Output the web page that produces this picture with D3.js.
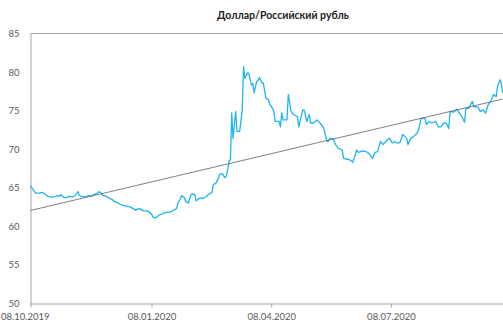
<!DOCTYPE html>
<html>
<head>
<meta charset="utf-8">
<script src="https://cdn.jsdelivr.net/npm/d3@7"></script>
<style>
  html, body { margin: 0; padding: 0; background: #fff; }
  svg { display: block; }
</style>
</head>
<body>
<svg id="chart" width="503" height="323"></svg>
<script>
const title = "Доллар/Российский рубль";

const dates = [
"2019-10-08","2019-10-09","2019-10-11","2019-10-12","2019-10-15","2019-10-17","2019-10-19","2019-10-21","2019-10-24","2019-10-26",
"2019-10-28","2019-10-30","2019-10-31","2019-11-02","2019-11-04","2019-11-06","2019-11-09","2019-11-11","2019-11-13","2019-11-14",
"2019-11-16","2019-11-19","2019-11-21","2019-11-23","2019-11-25","2019-11-28","2019-11-29","2019-12-01","2019-12-02","2019-12-05",
"2019-12-07","2019-12-09","2019-12-11","2019-12-14","2019-12-16","2019-12-18","2019-12-21","2019-12-23","2019-12-25","2019-12-27",
"2019-12-28","2019-12-30","2020-01-02","2020-01-04","2020-01-06","2020-01-08","2020-01-09","2020-01-11","2020-01-12","2020-01-14",
"2020-01-16","2020-01-19","2020-01-21","2020-01-23","2020-01-25","2020-01-27","2020-01-28","2020-01-30","2020-01-31","2020-02-02",
"2020-02-03","2020-02-05","2020-02-07","2020-02-08","2020-02-10","2020-02-11","2020-02-13","2020-02-14","2020-02-16","2020-02-17",
"2020-02-19","2020-02-20","2020-02-22","2020-02-23","2020-02-24","2020-02-26","2020-02-28","2020-02-29","2020-03-02","2020-03-03",
"2020-03-04","2020-03-05","2020-03-06","2020-03-07","2020-03-08","2020-03-09","2020-03-10","2020-03-12","2020-03-13","2020-03-15",
"2020-03-17","2020-03-18","2020-03-19","2020-03-21","2020-03-22","2020-03-24","2020-03-25","2020-03-26","2020-03-28","2020-03-29",
"2020-03-30","2020-04-01","2020-04-02","2020-04-04","2020-04-06","2020-04-07","2020-04-09","2020-04-10","2020-04-11","2020-04-14",
"2020-04-15","2020-04-16","2020-04-17","2020-04-20","2020-04-21","2020-04-23","2020-04-25","2020-04-28","2020-04-29","2020-05-02",
"2020-05-03","2020-05-05","2020-05-07","2020-05-08","2020-05-10","2020-05-13","2020-05-15","2020-05-17","2020-05-18","2020-05-20",
"2020-05-21","2020-05-23","2020-05-25","2020-05-27","2020-05-29","2020-06-01","2020-06-02","2020-06-05","2020-06-07","2020-06-09",
"2020-06-10","2020-06-12","2020-06-13","2020-06-15","2020-06-17","2020-06-19","2020-06-21","2020-06-22","2020-06-24","2020-06-26",
"2020-06-28","2020-06-29","2020-06-30","2020-07-02","2020-07-05","2020-07-07","2020-07-09","2020-07-11","2020-07-13","2020-07-15",
"2020-07-17","2020-07-19","2020-07-20","2020-07-21","2020-07-23","2020-07-25","2020-07-28","2020-07-29","2020-07-31","2020-08-03",
"2020-08-04","2020-08-06","2020-08-08","2020-08-11","2020-08-13","2020-08-15","2020-08-17","2020-08-19","2020-08-21","2020-08-22",
"2020-08-25","2020-08-27","2020-08-29","2020-08-31","2020-09-02","2020-09-03","2020-09-05","2020-09-08","2020-09-09","2020-09-12",
"2020-09-14","2020-09-16","2020-09-18","2020-09-20","2020-09-22","2020-09-24","2020-09-26","2020-09-27","2020-09-29","2020-09-30",
"2020-10-01"
];

const rates = [
65.3,65.0,64.5,64.3,64.3,64.4,64.2,63.9,63.8,63.8,
64.0,63.9,64.1,63.8,63.7,63.9,63.8,64.0,64.5,64.0,
63.9,63.8,64.0,63.9,64.1,64.3,64.5,64.3,64.0,63.9,
63.6,63.5,63.2,63.0,62.8,62.7,62.6,62.5,62.3,62.1,
62.2,62.3,62.0,62.0,61.9,61.6,61.2,61.1,61.2,61.5,
61.6,61.8,61.8,61.9,62.1,62.3,63.0,63.6,64.0,63.7,
63.2,63.0,64.1,64.2,64.1,63.3,63.6,63.7,63.6,63.7,
63.9,64.1,64.3,64.4,65.4,65.6,66.3,66.8,66.8,66.5,
66.3,66.6,67.4,68.5,68.6,74.7,71.4,74.9,72.3,72.3,
75.1,80.7,79.2,79.9,79.8,78.3,78.5,77.3,78.8,78.9,
79.3,78.6,78.6,76.6,76.4,75.8,75.3,74.9,73.6,73.6,
72.9,74.7,73.8,73.8,77.1,74.9,74.5,74.2,72.9,75.1,
75.1,73.6,74.5,73.4,73.4,73.8,73.4,73.0,72.7,71.2,
71.0,71.4,71.4,70.6,70.1,69.9,68.8,68.7,68.6,68.3,
68.8,69.9,69.6,69.7,69.8,69.7,69.5,69.3,68.8,69.6,
69.7,70.4,71.0,70.6,71.2,71.4,70.8,71.0,70.8,70.9,
71.9,71.6,71.4,70.6,71.4,71.6,72.1,72.5,74.0,74.0,
73.2,73.6,73.4,73.6,72.9,72.9,73.4,73.4,72.7,74.9,
74.8,75.2,74.7,74.2,73.5,75.3,75.3,76.2,75.5,75.5,
74.9,75.1,74.7,75.8,76.2,77.1,76.8,78.1,79.0,78.4,
77.3
];

// linear trend line (endpoints as shown on the chart)
const trendDates = ["2019-10-08", "2020-10-01"];
const trendValues = [62.06, 76.5];

const xTickLabels = ["2019-10-08", "2020-01-08", "2020-04-08", "2020-07-08"];
const yTicks = [50, 55, 60, 65, 70, 75, 80, 85];

const parse = d3.timeParse("%Y-%m-%d");
const fmt = d3.timeFormat("%d.%m.%Y");

const svg = d3.select("#chart");
const plotLeft = 30.5, plotRight = 502.7, plotTop = 33.5, plotBottom = 303.5;

const x = d3.scaleTime()
  .domain([parse("2019-10-08"), parse("2020-10-01")])
  .range([plotLeft, plotRight]);
const y = d3.scaleLinear().domain([50, 85]).range([plotBottom, plotTop]);

const axisColor = "#a6a6a6";
const textColor = "#595959";
const font = "Lato, 'Open Sans', sans-serif";

// title
svg.append("text")
  .attr("x", 283).attr("y", 19)
  .attr("text-anchor", "middle")
  .attr("font-family", font)
  .attr("font-weight", "bold")
  .attr("font-size", 10.5)
  .attr("fill", "#222")
  .text(title);

// top border line
svg.append("line")
  .attr("x1", plotLeft).attr("x2", 503)
  .attr("y1", y(85)).attr("y2", y(85))
  .attr("stroke", axisColor).attr("stroke-width", 1);

// y axis
const yAxis = svg.append("g")
  .attr("transform", `translate(${plotLeft},0)`)
  .call(d3.axisLeft(y).tickValues(yTicks).tickSize(0).tickPadding(11).tickFormat(d3.format("d")));
yAxis.select(".domain").attr("stroke", axisColor);
yAxis.selectAll("text")
  .attr("font-family", font).attr("font-size", 9.5).attr("fill", textColor);

// x axis
const xAxis = svg.append("g")
  .attr("transform", `translate(0,${plotBottom})`)
  .call(d3.axisBottom(x).tickValues(xTickLabels.map(parse)).tickSizeInner(4).tickSizeOuter(0).tickPadding(6).tickFormat(fmt));
xAxis.select(".domain").attr("stroke", axisColor).attr("d", `M${plotLeft},0.5H503`);
xAxis.selectAll(".tick line").attr("stroke", axisColor);
xAxis.selectAll("text")
  .attr("font-family", font).attr("font-size", 9.5).attr("fill", textColor);
xAxis.selectAll(".tick").filter((d, i) => i === 0).select("text")
  .attr("text-anchor", "start").attr("x", -plotLeft + 0.5);

// series line
const data = dates.map((d, i) => ({ date: parse(d), value: rates[i] }));
svg.append("path")
  .datum(data)
  .attr("fill", "none")
  .attr("stroke", "#1cb5f0")
  .attr("stroke-width", 1.3)
  .attr("stroke-linejoin", "round")
  .attr("d", d3.line().x(d => x(d.date)).y(d => y(d.value)));

// trend line
const trend = trendDates.map((d, i) => ({ date: parse(d), value: trendValues[i] }));
svg.append("path")
  .datum(trend)
  .attr("fill", "none")
  .attr("stroke", "#555")
  .attr("stroke-width", 0.75)
  .attr("d", d3.line().x(d => x(d.date)).y(d => y(d.value)));
</script>
</body>
</html>
